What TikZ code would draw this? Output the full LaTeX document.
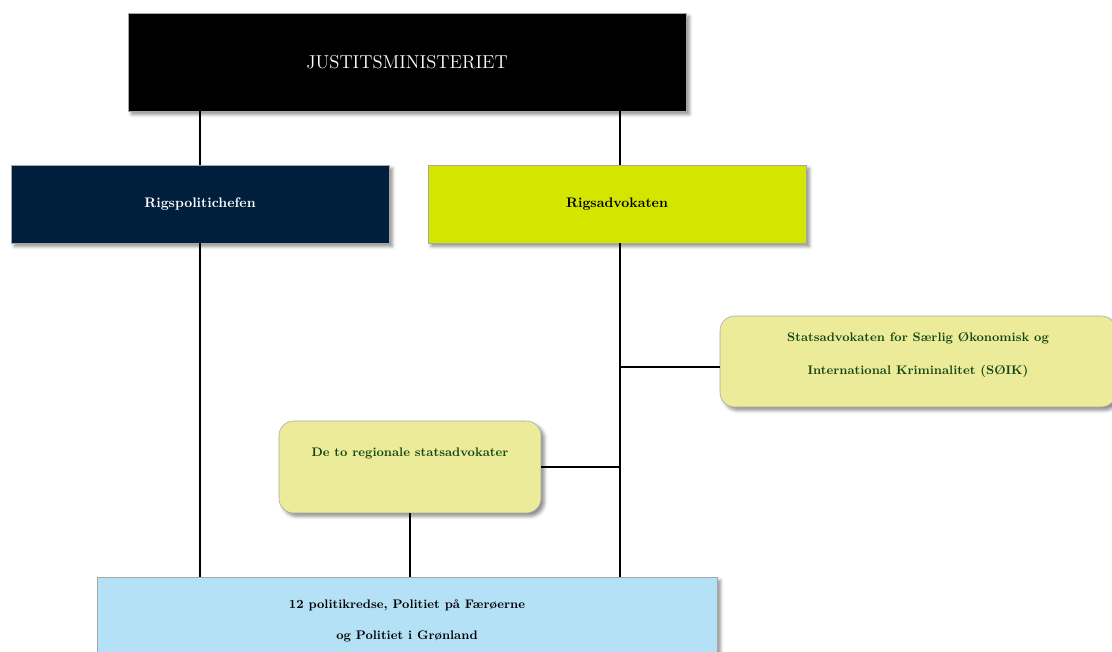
\documentclass[tikz,border=0pt]{standalone}
\usetikzlibrary{shadows.blur}
\definecolor{navy}{RGB}{0,31,61}
\definecolor{lime}{RGB}{212,230,0}
\definecolor{paleyellow}{RGB}{235,235,153}
\definecolor{lightblue}{RGB}{180,225,246}
\definecolor{darkgreen}{RGB}{20,70,20}
\def\px{0.75pt}
\tikzstyle{unit}=[draw=black!35,line width=0.4pt,inner sep=0pt,align=center,
  font=\bfseries\fontsize{9.3}{25}\selectfont,
  blur shadow={shadow xshift=2.5pt,shadow yshift=-2.5pt,shadow blur radius=2.5pt,shadow opacity=45}]
\tikzstyle{office}=[unit,rounded corners=11pt,fill=paleyellow,text=darkgreen]
\tikzstyle{head}=[unit,font=\bfseries\fontsize{10.4}{12}\selectfont,minimum width=378*\px,minimum height=78*\px]
\tikzstyle{edge}=[draw,line width=1.1pt,-]

\begin{document}
\begin{tikzpicture}[x=0.75pt,y=-0.75pt]
  \useasboundingbox (0,0) rectangle (1112,652);
  % First we draw the boxes
  \node[unit,fill=black,text=white,font=\fontsize{14}{16}\selectfont,
        minimum width=558*\px,minimum height=98*\px] (jm) at (407,62) {JUSTITSMINISTERIET};
  \node[head,fill=navy,text=white] (rpc) at (200,204) {Rigspolitichefen};
  \node[head,fill=lime,text=black] (ra) at (617,204) {Rigsadvokaten};
  \node[office,minimum width=396*\px,minimum height=91*\px,text depth=16*\px] (soik) at (918,361.5)
        {Statsadvokaten for Særlig Økonomisk og\\International Kriminalitet (SØIK)};
  \node[office,minimum width=262*\px,minimum height=92*\px,text height=10*\px,text depth=32*\px] (reg) at (410,467)
        {De to regionale statsadvokater};
  \node[unit,fill=lightblue,text=black,font=\bfseries\fontsize{9.3}{23.5}\selectfont,
        minimum width=620*\px,minimum height=88*\px] (pol) at (407,621)
        {12 politikredse, Politiet på Færøerne\\og Politiet i Grønland};
  % Connect the boxes with lines
  \coordinate (soikjoint) at ([yshift=-4pt]soik.west);
  \coordinate (rajoint) at ([xshift=3*\px]ra.south);
  \foreach \source/\dest in {{jm.south -| rpc.north}/rpc.north,
                             {jm.south -| rajoint}/{ra.north -| rajoint},
                             rpc.south/{rpc.south |- pol.north},
                             rajoint/{rajoint |- pol.north},
                             reg.south/{reg.south |- pol.north},
                             reg.east/{reg.east -| rajoint},
                             soikjoint/{soikjoint -| rajoint}}
    \path[edge] (\source) -- (\dest);
\end{tikzpicture}
\end{document}
